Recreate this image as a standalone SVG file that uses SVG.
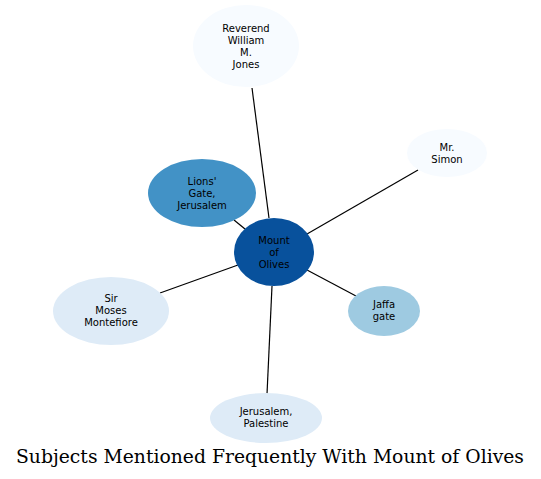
<svg xmlns="http://www.w3.org/2000/svg" width="541" height="479" viewBox="0 0 541 479">
<style>
.n text{font-family:"DejaVu Sans",sans-serif;font-size:10px;text-anchor:middle;fill:#000}
.e line{stroke:#000;stroke-width:1.2}
.t{font-family:"DejaVu Serif",serif;font-size:18px;text-anchor:middle;fill:#000}
</style>
<rect width="541" height="479" fill="#fff"/>
<g class="e" id="edges">
<line x1="269" y1="218" x2="252" y2="88"/>
<line x1="307" y1="234" x2="418" y2="170"/>
<line x1="245" y1="229" x2="234" y2="220"/>
<line x1="238" y1="265" x2="160" y2="293"/>
<line x1="307" y1="270" x2="356" y2="296"/>
<line x1="272" y1="286" x2="267" y2="394"/>
</g>
<g class="n" id="jones"><ellipse cx="246" cy="46" rx="53" ry="41" fill="#f7fbff"/>
<text x="246" y="32">Reverend</text><text x="246" y="44">William</text><text x="246" y="56">M.</text><text x="246" y="68">Jones</text></g>
<g class="n" id="simon"><ellipse cx="447" cy="153" rx="40" ry="24" fill="#f7fbff"/>
<text x="447" y="151">Mr.</text><text x="447" y="163">Simon</text></g>
<g class="n" id="lions"><ellipse cx="202" cy="193" rx="54" ry="34" fill="#4292c6"/>
<text x="202" y="185">Lions'</text><text x="202" y="197">Gate,</text><text x="202" y="209">Jerusalem</text></g>
<g class="n" id="mount"><ellipse cx="274" cy="252" rx="40" ry="34" fill="#08519c"/>
<text x="274" y="244">Mount</text><text x="274" y="256">of</text><text x="274" y="268">Olives</text></g>
<g class="n" id="moses"><ellipse cx="111" cy="311" rx="58" ry="34" fill="#deebf7"/>
<text x="111" y="302">Sir</text><text x="111" y="314">Moses</text><text x="111" y="326">Montefiore</text></g>
<g class="n" id="jaffa"><ellipse cx="384" cy="311" rx="36" ry="25" fill="#9ecae1"/>
<text x="384" y="308">Jaffa</text><text x="384" y="320">gate</text></g>
<g class="n" id="jerusalem"><ellipse cx="266" cy="418" rx="56" ry="25" fill="#deebf7"/>
<text x="266" y="415">Jerusalem,</text><text x="266" y="427">Palestine</text></g>
<text class="t" x="270" y="463" textLength="508" lengthAdjust="spacingAndGlyphs">Subjects Mentioned Frequently With Mount of Olives</text>
</svg>
